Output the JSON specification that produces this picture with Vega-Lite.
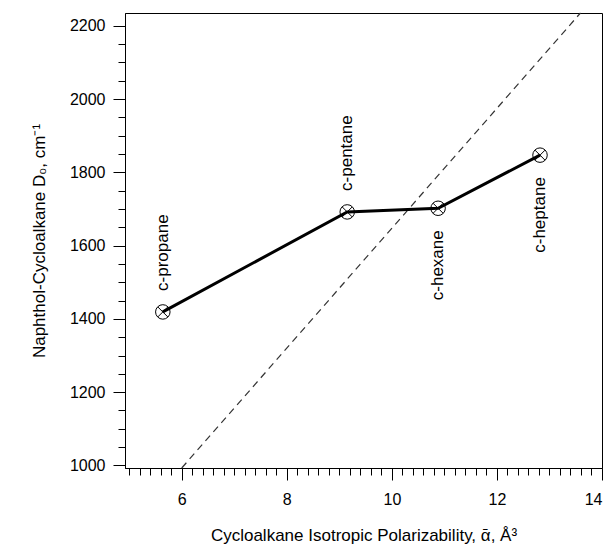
{
  "$schema": "https://vega.github.io/schema/vega-lite/v6.json",
  "width": 477,
  "height": 455,
  "autosize": "none",
  "padding": {"left": 125, "top": 13, "right": 12, "bottom": 84},
  "background": "white",
  "datasets": {
    "points": [
      {"molecule": "c-propane", "alpha": 5.64, "D0": 1419},
      {"molecule": "c-pentane", "alpha": 9.15, "D0": 1692},
      {"molecule": "c-hexane", "alpha": 10.88, "D0": 1702},
      {"molecule": "c-heptane", "alpha": 12.82, "D0": 1847}
    ],
    "fit": [
      {"alpha": 6.0, "D0": 993},
      {"alpha": 13.59, "D0": 2235}
    ]
  },
  "config": {
    "view": {"stroke": "black", "strokeWidth": 1},
    "axis": {
      "grid": false,
      "domainColor": "black",
      "domainWidth": 1,
      "tickColor": "black",
      "tickWidth": 1,
      "labelFont": "Liberation Sans",
      "labelFontSize": 16,
      "labelColor": "black",
      "titleFont": "Liberation Sans",
      "titleFontSize": 17,
      "titleFontWeight": "normal",
      "titleColor": "black",
      "labelOverlap": false
    },
    "text": {"font": "Liberation Sans"}
  },
  "encoding": {
    "x": {
      "field": "alpha",
      "type": "quantitative",
      "scale": {"domain": [4.92, 14], "nice": false, "zero": false},
      "axis": {
        "title": "Cycloalkane Isotropic Polarizability, ᾱ, Å³",
        "values": [5, 5.2, 5.4, 5.6, 5.8, 6, 6.2, 6.4, 6.6, 6.8, 7, 7.2, 7.4, 7.6, 7.8, 8, 8.2, 8.4, 8.6, 8.8, 9, 9.2, 9.4, 9.6, 9.8, 10, 10.2, 10.4, 10.6, 10.8, 11, 11.2, 11.4, 11.6, 11.8, 12, 12.2, 12.4, 12.6, 12.8, 13, 13.2, 13.4, 13.6, 13.8, 14],
        "labelExpr": "abs(datum.value - round(datum.value / 2) * 2) < 0.001 && datum.value > 5.5 ? format(datum.value, 'd') : ''",
        "tickSize": {"condition": {"test": "abs(datum.value - round(datum.value / 2) * 2) < 0.001 && datum.value > 5.5", "value": 12}, "value": 7},
        "labelPadding": 11,
        "titlePadding": 20
      }
    },
    "y": {
      "field": "D0",
      "type": "quantitative",
      "scale": {"domain": [993, 2235], "nice": false, "zero": false},
      "axis": {
        "title": "Naphthol-Cycloalkane D₀, cm⁻¹",
        "values": [1000, 1050, 1100, 1150, 1200, 1250, 1300, 1350, 1400, 1450, 1500, 1550, 1600, 1650, 1700, 1750, 1800, 1850, 1900, 1950, 2000, 2050, 2100, 2150, 2200],
        "labelExpr": "datum.value % 200 == 0 ? datum.label : ''",
        "format": "d",
        "tickSize": {"condition": {"test": "datum.value % 200 == 0", "value": 12}, "value": 7},
        "labelPadding": 8,
        "titlePadding": 21
      }
    }
  },
  "layer": [
    {
      "data": {"name": "fit"},
      "mark": {"type": "line", "color": "#333333", "strokeWidth": 1.2, "strokeDash": [7, 5]}
    },
    {
      "data": {"name": "points"},
      "mark": {"type": "line", "color": "black", "strokeWidth": 3}
    },
    {
      "data": {"name": "points"},
      "mark": {"type": "point", "shape": "circle", "filled": false, "stroke": "black", "strokeWidth": 1, "size": 210, "opacity": 1}
    },
    {
      "data": {"name": "points"},
      "mark": {"type": "point", "shape": "M-1,-1L1,1M-1,1L1,-1", "filled": false, "stroke": "black", "strokeWidth": 1, "size": 100, "opacity": 1}
    },
    {
      "data": {"name": "points"},
      "transform": [{"filter": "datum.molecule == 'c-propane' || datum.molecule == 'c-pentane'"}],
      "mark": {"type": "text", "angle": 270, "align": "left", "baseline": "middle", "dx": 21, "fontSize": 17, "color": "black"},
      "encoding": {"text": {"field": "molecule"}}
    },
    {
      "data": {"name": "points"},
      "transform": [{"filter": "datum.molecule == 'c-hexane' || datum.molecule == 'c-heptane'"}],
      "mark": {"type": "text", "angle": 270, "align": "right", "baseline": "middle", "dx": -22, "fontSize": 17, "color": "black"},
      "encoding": {"text": {"field": "molecule"}}
    }
  ]
}
